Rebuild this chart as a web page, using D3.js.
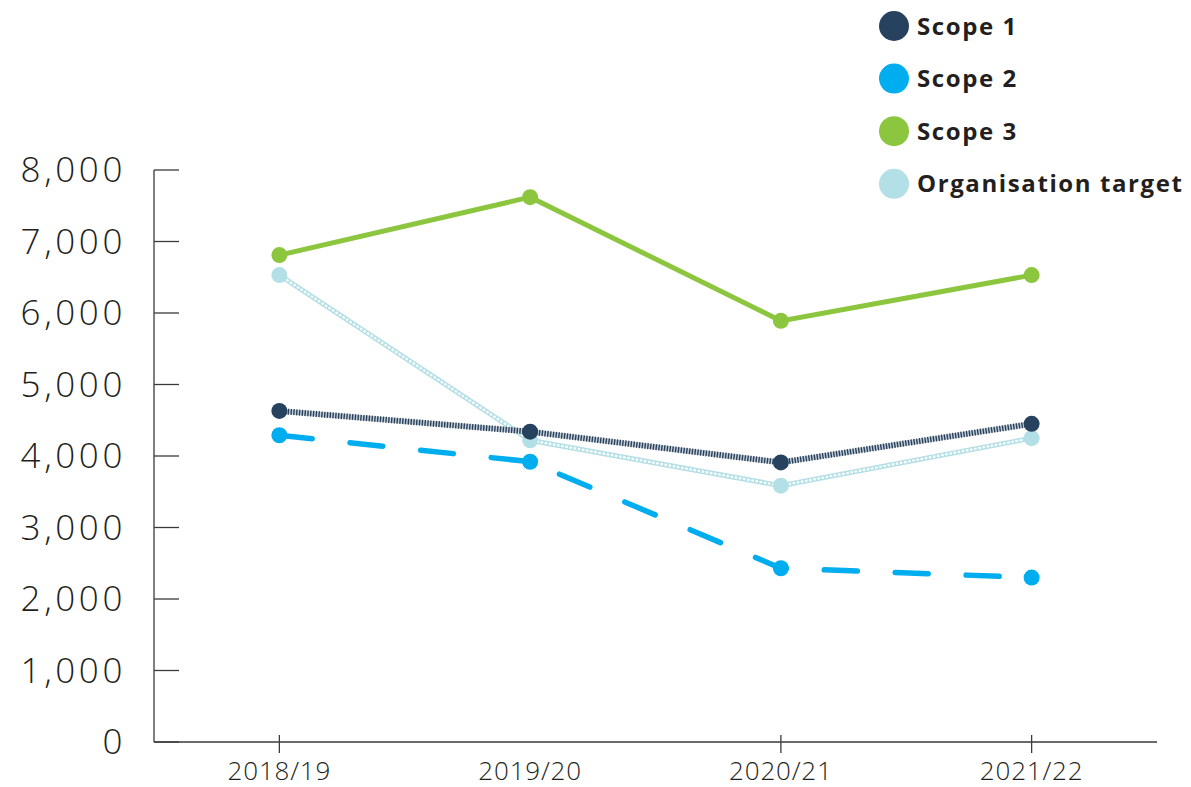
<!DOCTYPE html>
<html>
<head>
  <script src="https://d3js.org/d3.v7.min.js"></script>
  <style>
    body { margin: 0; padding: 0; background: #fff; }
    .tickLabel { font-family: "Open Sans", sans-serif; font-weight: 300; fill: #231f20; }
    .legendLabel { font-family: "Open Sans", sans-serif; font-weight: 700; font-size: 24px; fill: #231f20; letter-spacing: 1.6px; }
  </style>
</head>
<body>
  <div id="chart"></div>
  <script>
    // data (tCO2e)
    var years = ["2018/19", "2019/20", "2020/21", "2021/22"];
    var scope1 = [4630, 4340, 3910, 4450];
    var scope2 = [4290, 3920, 2430, 2300];
    var scope3 = [6810, 7620, 5890, 6530];
    var target = [6530, 4220, 3585, 4250];
    var yTicks = [0, 1000, 2000, 3000, 4000, 5000, 6000, 7000, 8000];
    var tickedYears = ["2018/19", "2020/21", "2021/22"];   // 2019/20 has no tick mark in the original

    var width = 1191, height = 787;
    var margin = {top: 170, left: 154, right: 34, bottom: 45};

    var svg = d3.select("#chart").append("svg")
      .attr("width", width)
      .attr("height", height);

    var xScale = d3.scalePoint()
      .domain(years)
      .range([margin.left, width - margin.right])
      .padding(0.5);

    var yScale = d3.scaleLinear()
      .domain([0, 8000])
      .range([height - margin.bottom, margin.top]);

    /*
    AXES
    */
    var axisColor = "#3a3a3a";
    var y0 = yScale(0);

    // y axis: vertical line, short inward ticks
    svg.append("line")
      .attr("x1", margin.left).attr("x2", margin.left)
      .attr("y1", yScale(8000)).attr("y2", y0)
      .attr("stroke", axisColor).attr("stroke-width", 1.3);

    svg.selectAll(".yTick")
      .data(yTicks)
      .enter().append("line")
        .attr("class", "yTick")
        .attr("x1", margin.left).attr("x2", margin.left + 25)
        .attr("y1", function(d) { return yScale(d); })
        .attr("y2", function(d) { return yScale(d); })
        .attr("stroke", axisColor).attr("stroke-width", 1.3);

    svg.selectAll(".yLabel")
      .data(yTicks)
      .enter().append("text")
        .attr("class", "tickLabel")
        .attr("x", 126)
        .attr("y", function(d) { return yScale(d); })
        .attr("dy", "0.35em")
        .attr("text-anchor", "end")
        .style("font-size", "35px")
        .style("letter-spacing", "3.6px")
        .text(d3.format(","));

    // x axis
    svg.append("line")
      .attr("x1", margin.left).attr("x2", width - margin.right)
      .attr("y1", y0).attr("y2", y0)
      .attr("stroke", axisColor).attr("stroke-width", 1.3);

    svg.selectAll(".xTick")
      .data(tickedYears)
      .enter().append("line")
        .attr("x1", function(d) { return xScale(d); })
        .attr("x2", function(d) { return xScale(d); })
        .attr("y1", y0 - 7).attr("y2", y0 + 11)
        .attr("stroke", axisColor).attr("stroke-width", 1.3);

    svg.selectAll(".xLabel")
      .data(years)
      .enter().append("text")
        .attr("class", "tickLabel")
        .attr("x", function(d) { return xScale(d); })
        .attr("y", 780)
        .attr("text-anchor", "middle")
        .style("font-size", "26px")
        .style("letter-spacing", "0.8px")
        .text(function(d) { return d; });

    /*
    SERIES
    */
    var line = d3.line()
      .x(function(d, i) { return xScale(years[i]); })
      .y(function(d) { return yScale(d); });

    function drawPoints(values, color) {
      svg.append("g").selectAll("circle")
        .data(values)
        .enter().append("circle")
          .attr("cx", function(d, i) { return xScale(years[i]); })
          .attr("cy", function(d) { return yScale(d); })
          .attr("r", 8)
          .attr("fill", color);
    }

    // organisation target: chain-like light blue line
    svg.append("path").datum(target)
      .attr("d", line).attr("fill", "none")
      .attr("stroke", "#b3dfe6").attr("stroke-width", 5);
    svg.append("path").datum(target)
      .attr("d", line).attr("fill", "none")
      .attr("stroke", "#fff").attr("stroke-width", 2.2)
      .attr("stroke-dasharray", "2.6,1.6");
    drawPoints(target, "#b3dfe6");

    // scope 3: solid green
    svg.append("path").datum(scope3)
      .attr("d", line).attr("fill", "none")
      .attr("stroke", "#8cc63f").attr("stroke-width", 5);
    drawPoints(scope3, "#8cc63f");

    // scope 2: long dashes
    svg.append("path").datum(scope2)
      .attr("d", line).attr("fill", "none")
      .attr("stroke", "#00aeef").attr("stroke-width", 5.5)
      .attr("stroke-linecap", "round")
      .attr("stroke-dasharray", "33,38");
    drawPoints(scope2, "#00aeef");

    // scope 1: hatched navy
    svg.append("path").datum(scope1)
      .attr("d", line).attr("fill", "none")
      .attr("stroke", "#c5ccd3").attr("stroke-width", 5);
    svg.append("path").datum(scope1)
      .attr("d", line).attr("fill", "none")
      .attr("stroke", "#27425e").attr("stroke-width", 6)
      .attr("stroke-dasharray", "1.4,1.4");
    drawPoints(scope1, "#27425e");

    /*
    LEGEND
    */
    var legendItems = ["Scope 1", "Scope 2", "Scope 3", "Organisation target"];
    var legendColors = ["#27425e", "#00aeef", "#8cc63f", "#b3dfe6"];

    var legend = svg.selectAll(".legend")
      .data(legendItems)
      .enter().append("g")
        .attr("transform", function(d, i) { return "translate(894," + (26 + i * 52.6) + ")"; });

    legend.append("circle")
      .attr("r", 15)
      .attr("fill", function(d, i) { return legendColors[i]; });

    legend.append("text")
      .attr("class", "legendLabel")
      .attr("x", 23)
      .attr("dy", "0.36em")
      .text(function(d) { return d; });
  </script>
</body>
</html>
